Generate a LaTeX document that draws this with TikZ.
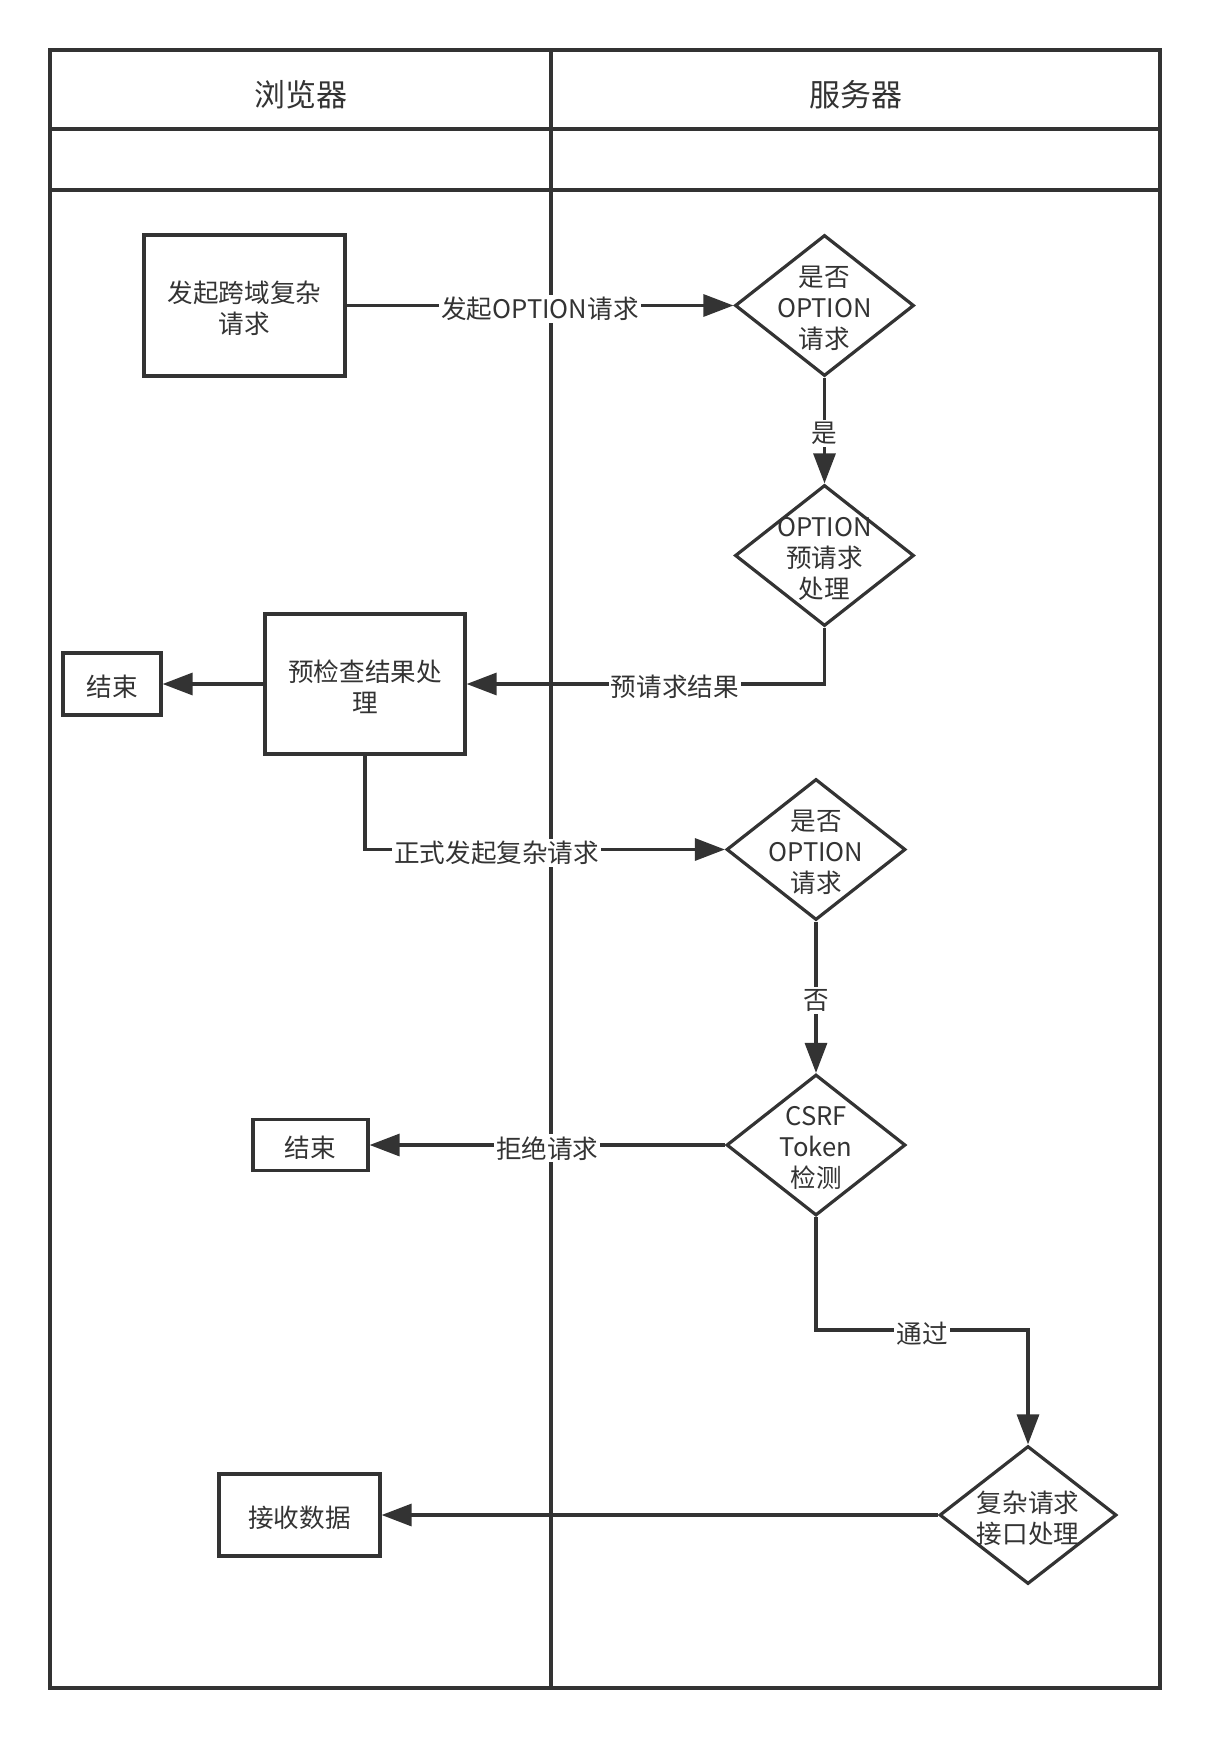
\documentclass[tikz,border=0pt]{standalone}
\usepackage{fontspec}
\setmainfont{Noto Sans CJK SC}
\usetikzlibrary{shapes.geometric,arrows.meta}
\definecolor{ink}{HTML}{333333}
\tikzset{
  every node/.style={font=\fontsize{12.8pt}{15.5pt}\selectfont, text=ink},
  lane/.style={draw=ink, line width=1.6pt},
  boxnode/.style={draw=ink, line width=1.6pt, rectangle, inner sep=0pt},
  dia/.style={draw=ink, line width=1.6pt, diamond, inner sep=0pt, minimum width=89.5pt, minimum height=70.5pt},
  dtext/.style={align=center, inner sep=0pt, yshift=-1.6pt},
  conn/.style={draw=ink, line width=1.6pt, -{Triangle[length=15pt,width=11pt]}},
  lbl/.style={fill=white, inner sep=1pt, yshift=-1.6pt},
  hdr/.style={font=\fontsize{15.5pt}{18pt}\selectfont, yshift=-0.8pt}
}
\begin{document}
\begin{tikzpicture}[x=0.5pt,y=-0.5pt]
\useasboundingbox (0,0) rectangle (1210,1738);
% swimlanes
\draw[lane] (50,50) rectangle (1160,1688);
\draw[lane] (551,50) -- (551,1688);
\draw[lane] (50,129) -- (1160,129);
\draw[lane] (50,190) -- (1160,190);
\node[hdr] (h1) at (300.5,93) {浏览器};
\node[hdr] (h2) at (855.5,93) {服务器};

% nodes
\node[boxnode, minimum width=100.5pt, minimum height=70.5pt] (b1) at (244.5,305.5) {};
\node[dtext] (bt1) at (b1) {发起跨域复杂\\请求};
\node[dia] (d1) at (824.5,305.5) {};
\node[dtext] (t1) at (d1) {是否\\OPTION\\请求};
\node[dia] (d2) at (824.5,555.5) {};
\node[dtext] (t2) at (d2) {OPTION\\预请求\\处理};
\node[boxnode, minimum width=100pt, minimum height=70pt] (b2) at (365,684) {};
\node[dtext] (bt2) at (b2) {预检查结果处\\理};
\node[boxnode, minimum width=49pt, minimum height=31pt] (e1) at (112,684) {};
\node[dtext] (et1) at (e1) {结束};
\node[dia] (d3) at (816,849.5) {};
\node[dtext] (t3) at (d3) {是否\\OPTION\\请求};
\node[dia] (d4) at (816,1145) {};
\node[dtext] (t4) at (d4) {CSRF\\Token\\检测};
\node[boxnode, minimum width=57.5pt, minimum height=25.5pt] (e2) at (310.5,1145) {};
\node[dtext] (et2) at (e2) {结束};
\coordinate (c1) at (816,1330);
\node[dia, minimum width=88.5pt, minimum height=69pt] (d5) at (1028,1515) {};
\node[dtext] (t5) at (d5) {复杂请求\\接口处理};
\node[boxnode, minimum width=80.5pt, minimum height=41pt] (r1) at (299.5,1515) {};
\node[dtext] (rt1) at (r1) {接收数据};

% connectors
\draw[conn] (b1.east) -- node[lbl] {发起OPTION请求} (d1.west);
\draw[conn] (d1.south) -- node[lbl] {是} (d2.north);
\draw[conn] (d2.south) |- node[lbl, pos=0.709] {预请求结果} (b2.east);
\draw[conn] (b2.west) -- (e1.east);
\draw[conn] (b2.south) |- node[lbl, pos=0.683] {正式发起复杂请求} (d3.west);
\draw[conn] (d3.south) -- node[lbl] {否} (d4.north);
\draw[conn] (d4.west) -- node[lbl] {拒绝请求} (e2.east);
\draw[conn] (d4.south) -- (c1) -| node[lbl, pos=0.25] {通过} (d5.north);
\draw[conn] (d5.west) -- (r1.east);
\end{tikzpicture}
\end{document}
